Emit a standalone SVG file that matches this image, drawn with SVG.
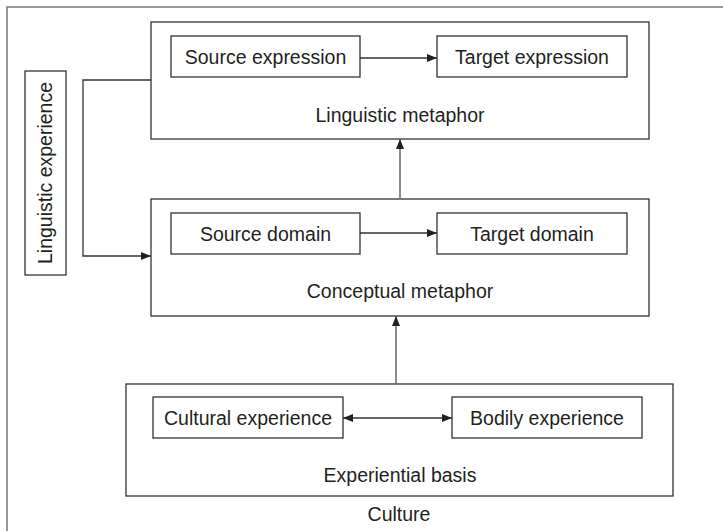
<svg xmlns="http://www.w3.org/2000/svg" width="723" height="531" viewBox="0 0 723 531">
<style>
.box{fill:#fff;stroke:#333;stroke-width:1.3}
.frame{fill:#fff;stroke:#777;stroke-width:1.5}
.t{font-family:"Liberation Sans",Arial,sans-serif;font-size:19.5px;fill:#231f20;text-anchor:middle}
.c{fill:none;stroke:#333;stroke-width:1.3}
.g{fill:none;stroke:#666;stroke-width:1.5}
</style>
<defs>
<marker id="ah" viewBox="0 0 10 10" refX="10" refY="5" markerWidth="10" markerHeight="10" markerUnits="userSpaceOnUse" orient="auto-start-reverse">
<path d="M0,1 L10,5 L0,9 Z" fill="#231f20"/>
</marker>
</defs>
<rect class="frame" x="7" y="7" width="730" height="540"/>
<g id="culture"><text class="t" x="399" y="521">Culture</text></g>
<g id="linguistic-metaphor">
<rect class="box" x="151" y="22" width="498" height="117"/>
<text class="t" x="400" y="122">Linguistic metaphor</text>
</g>
<g id="source-expression">
<rect class="box" x="171" y="36" width="189" height="41"/>
<text class="t" x="265.5" y="64">Source expression</text>
</g>
<g id="target-expression">
<rect class="box" x="437" y="36" width="190" height="41"/>
<text class="t" x="532" y="64">Target expression</text>
</g>
<g id="conceptual-metaphor">
<rect class="box" x="151" y="199" width="498" height="117"/>
<text class="t" x="400" y="298">Conceptual metaphor</text>
</g>
<g id="source-domain">
<rect class="box" x="171" y="213" width="189" height="41"/>
<text class="t" x="265.5" y="241">Source domain</text>
</g>
<g id="target-domain">
<rect class="box" x="437" y="213" width="190" height="41"/>
<text class="t" x="532" y="241">Target domain</text>
</g>
<g id="experiential-basis">
<rect class="box" x="126" y="384" width="547" height="112"/>
<text class="t" x="400" y="482">Experiential basis</text>
</g>
<g id="cultural-experience">
<rect class="box" x="153" y="397" width="190" height="41"/>
<text class="t" x="248" y="425">Cultural experience</text>
</g>
<g id="bodily-experience">
<rect class="box" x="452" y="397" width="190" height="41"/>
<text class="t" x="547" y="425">Bodily experience</text>
</g>
<g id="linguistic-experience">
<rect class="box" x="25" y="71" width="41" height="204"/>
<text class="t" transform="translate(52,173) rotate(-90)" x="0" y="0">Linguistic experience</text>
</g>
<g id="connectors">
<line class="c" x1="360" y1="58" x2="437" y2="58" marker-end="url(#ah)"/>
<line class="c" x1="360" y1="233" x2="437" y2="233" marker-end="url(#ah)"/>
<line class="c" x1="343" y1="418" x2="452" y2="418" marker-start="url(#ah)" marker-end="url(#ah)"/>
<line class="g" x1="400" y1="199" x2="400" y2="139" marker-end="url(#ah)"/>
<line class="g" x1="396" y1="384" x2="396" y2="316" marker-end="url(#ah)"/>
<polyline class="c" points="151,80 83,80 83,256 151,256" marker-end="url(#ah)"/>
</g>
</svg>
